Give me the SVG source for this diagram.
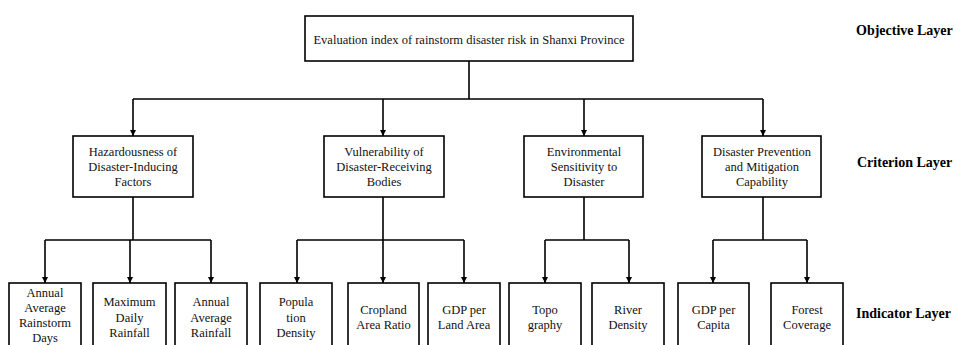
<svg xmlns="http://www.w3.org/2000/svg" width="956" height="345" viewBox="0 0 956 345">
<style>
.box{fill:#fff;stroke:#000;stroke-width:1.6}
.t{font-family:"Liberation Serif","Times New Roman",serif;font-size:12.5px;fill:#111;text-anchor:middle}
.lbl{font-family:"Liberation Serif","Times New Roman",serif;font-size:14px;font-weight:bold;fill:#000}
.c{fill:none;stroke:#000;stroke-width:1.6}
</style>
<defs>
<marker id="ah" viewBox="0 0 10 10" refX="10" refY="5" markerWidth="6" markerHeight="6" markerUnits="userSpaceOnUse" orient="auto">
<path d="M0,0 L10,5 L0,10 z" fill="#000"/>
</marker>
</defs>
<rect width="956" height="345" fill="#fff"/>
<g id="connectors">
<path class="c" d="M469,61 V99 M133,99 H763"/>
<path class="c" d="M133,99 V136" marker-end="url(#ah)"/>
<path class="c" d="M383,99 V136" marker-end="url(#ah)"/>
<path class="c" d="M584,99 V136" marker-end="url(#ah)"/>
<path class="c" d="M763,99 V136" marker-end="url(#ah)"/>
<path class="c" d="M133,197 V240 M45,240 H211 M383,197 V240 M297,240 H464 M584,197 V240 M545,240 H629 M763,197 V240 M713,240 H807"/>
<path class="c" d="M45,240 V283" marker-end="url(#ah)"/>
<path class="c" d="M130,240 V283" marker-end="url(#ah)"/>
<path class="c" d="M211,240 V283" marker-end="url(#ah)"/>
<path class="c" d="M297,240 V283" marker-end="url(#ah)"/>
<path class="c" d="M383,240 V283" marker-end="url(#ah)"/>
<path class="c" d="M464,240 V283" marker-end="url(#ah)"/>
<path class="c" d="M545,240 V283" marker-end="url(#ah)"/>
<path class="c" d="M629,240 V283" marker-end="url(#ah)"/>
<path class="c" d="M713,240 V283" marker-end="url(#ah)"/>
<path class="c" d="M807,240 V283" marker-end="url(#ah)"/>
</g>
<g id="objective">
<rect class="box" x="305" y="16" width="328" height="45"/>
<text class="t" x="469" y="44">Evaluation index of rainstorm disaster risk in Shanxi Province</text>
</g>
<g id="c1">
<rect class="box" x="73" y="136" width="120" height="61"/>
<text class="t" x="133" y="156">Hazardousness of</text>
<text class="t" x="133" y="171">Disaster-Inducing</text>
<text class="t" x="133" y="186">Factors</text>
</g>
<g id="c2">
<rect class="box" x="324" y="136" width="120" height="61"/>
<text class="t" x="384" y="156">Vulnerability of</text>
<text class="t" x="384" y="171">Disaster-Receiving</text>
<text class="t" x="384" y="186">Bodies</text>
</g>
<g id="c3">
<rect class="box" x="524" y="136" width="119" height="61"/>
<text class="t" x="584" y="156">Environmental</text>
<text class="t" x="584" y="171">Sensitivity to</text>
<text class="t" x="584" y="186">Disaster</text>
</g>
<g id="c4">
<rect class="box" x="702" y="136" width="119" height="61"/>
<text class="t" x="762" y="156">Disaster Prevention</text>
<text class="t" x="762" y="171">and Mitigation</text>
<text class="t" x="762" y="186">Capability</text>
</g>
<g id="i1">
<rect class="box" x="9" y="283" width="72" height="70"/>
<text class="t" x="45" y="297">Annual</text>
<text class="t" x="45" y="312">Average</text>
<text class="t" x="45" y="327">Rainstorm</text>
<text class="t" x="45" y="342">Days</text>
</g>
<g id="i2">
<rect class="box" x="93" y="283" width="73" height="70"/>
<text class="t" x="129.5" y="306">Maximum</text>
<text class="t" x="129.5" y="322">Daily</text>
<text class="t" x="129.5" y="337">Rainfall</text>
</g>
<g id="i3">
<rect class="box" x="175" y="283" width="72" height="70"/>
<text class="t" x="211" y="306">Annual</text>
<text class="t" x="211" y="322">Average</text>
<text class="t" x="211" y="337">Rainfall</text>
</g>
<g id="i4">
<rect class="box" x="260" y="283" width="72" height="70"/>
<text class="t" x="296" y="306">Popula</text>
<text class="t" x="296" y="322">tion</text>
<text class="t" x="296" y="337">Density</text>
</g>
<g id="i5">
<rect class="box" x="348" y="283" width="71" height="70"/>
<text class="t" x="383.5" y="314">Cropland</text>
<text class="t" x="383.5" y="329">Area Ratio</text>
</g>
<g id="i6">
<rect class="box" x="428" y="283" width="72" height="70"/>
<text class="t" x="464" y="314">GDP per</text>
<text class="t" x="464" y="329">Land Area</text>
</g>
<g id="i7">
<rect class="box" x="509" y="283" width="72" height="70"/>
<text class="t" x="545" y="314">Topo</text>
<text class="t" x="545" y="329">graphy</text>
</g>
<g id="i8">
<rect class="box" x="592" y="283" width="72" height="70"/>
<text class="t" x="628" y="314">River</text>
<text class="t" x="628" y="329">Density</text>
</g>
<g id="i9">
<rect class="box" x="678" y="283" width="71" height="70"/>
<text class="t" x="713.5" y="314">GDP per</text>
<text class="t" x="713.5" y="329">Capita</text>
</g>
<g id="i10">
<rect class="box" x="771" y="283" width="72" height="70"/>
<text class="t" x="807" y="314">Forest</text>
<text class="t" x="807" y="329">Coverage</text>
</g>
<g id="layers">
<text class="lbl" x="856" y="35">Objective Layer</text>
<text class="lbl" x="857" y="167">Criterion Layer</text>
<text class="lbl" x="856" y="318">Indicator Layer</text>
</g>
</svg>
